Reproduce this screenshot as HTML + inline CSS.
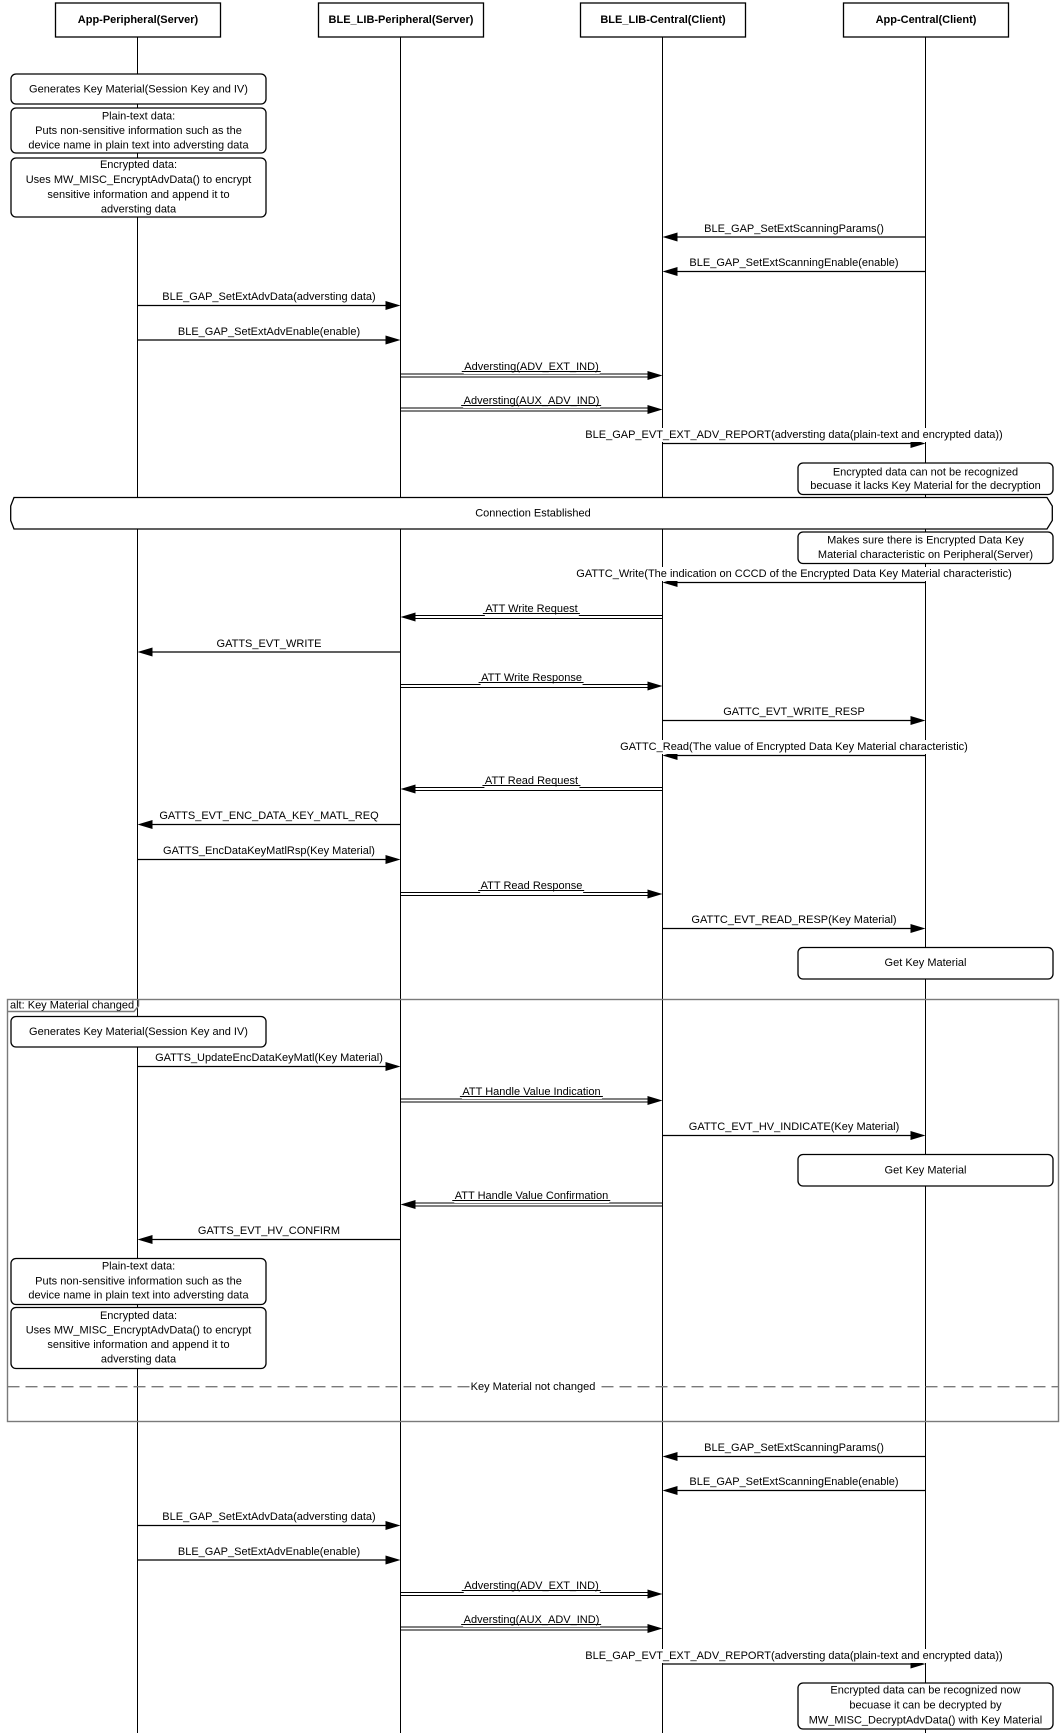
<!DOCTYPE html>
<html>
<head>
<meta charset="utf-8">
<style>
  html, body { margin:0; padding:0; background:#fff; }
  #wrap { position:relative; width:1063px; height:1733px; overflow:hidden; background:#fff; }
  svg { position:absolute; left:0; top:0; }
  .l { position:absolute; transform:translate(-50%,-50%); white-space:nowrap;
       font-family:"Liberation Sans", Arial, sans-serif; font-size:11px; line-height:14px;
       color:#000; background:#fff; padding:0 1px; }
  .u::after { content:""; position:absolute; left:-2px; right:-1px; bottom:1.7px; height:1px; background:#000; }
  .t { font-family:"Liberation Sans", Arial, sans-serif; font-size:11px; fill:#000; }
  .b { font-weight:bold; }
</style>
</head>
<body>
<div id="wrap">
<svg width="1063" height="1733" viewBox="0 0 1063 1733" xmlns="http://www.w3.org/2000/svg">
  <!-- lifelines -->
  <g stroke="#000" stroke-width="1">
    <line x1="137.5" y1="37" x2="137.5" y2="1733"/>
    <line x1="400.5" y1="37" x2="400.5" y2="1733"/>
    <line x1="662.5" y1="37" x2="662.5" y2="1733"/>
    <line x1="925.5" y1="37" x2="925.5" y2="1733"/>
  </g>
  <!-- header boxes -->
  <g fill="#fff" stroke="#000" stroke-width="1.3">
    <rect x="55.5" y="3" width="165" height="34"/>
    <rect x="318.5" y="3" width="165" height="34"/>
    <rect x="580.5" y="3" width="165" height="34"/>
    <rect x="843.5" y="3" width="165" height="34"/>
  </g>
  <g class="t b" text-anchor="middle" dominant-baseline="central">
    <text x="138" y="20">App-Peripheral(Server)</text>
    <text x="401" y="20">BLE_LIB-Peripheral(Server)</text>
    <text x="663" y="20">BLE_LIB-Central(Client)</text>
    <text x="926" y="20">App-Central(Client)</text>
  </g>

  <!-- alt frame -->
  <g fill="none" stroke="#7a7a7a" stroke-width="1.4">
    <rect x="7.5" y="999.5" width="1051" height="422"/>
    <path d="M7.5,1011.5 H134 L138.5,1006 V999.5"/>
    <line x1="7.5" y1="1386.7" x2="1058.5" y2="1386.7" stroke-dasharray="12 6"/>
  </g>
  <text class="t" x="10" y="1005.5" dominant-baseline="central">alt: Key Material changed</text>

  <!-- single arrows -->
  <g stroke="#000" stroke-width="1.2">
    <line x1="925.5" y1="237" x2="672" y2="237"/>
    <line x1="925.5" y1="271.5" x2="672" y2="271.5"/>
    <line x1="137.5" y1="305.5" x2="391" y2="305.5"/>
    <line x1="137.5" y1="340" x2="391" y2="340"/>
    <line x1="662.5" y1="443.5" x2="916" y2="443.5"/>
    <line x1="925.5" y1="582.5" x2="672" y2="582.5"/>
    <line x1="400.5" y1="652" x2="147" y2="652"/>
    <line x1="662.5" y1="720.5" x2="916" y2="720.5"/>
    <line x1="925.5" y1="755.5" x2="672" y2="755.5"/>
    <line x1="400.5" y1="824.5" x2="147" y2="824.5"/>
    <line x1="137.5" y1="859.5" x2="391" y2="859.5"/>
    <line x1="662.5" y1="928.5" x2="916" y2="928.5"/>
    <line x1="137.5" y1="1066.5" x2="391" y2="1066.5"/>
    <line x1="662.5" y1="1135.5" x2="916" y2="1135.5"/>
    <line x1="400.5" y1="1239.5" x2="147" y2="1239.5"/>
    <line x1="925.5" y1="1456.5" x2="672" y2="1456.5"/>
    <line x1="925.5" y1="1490.5" x2="672" y2="1490.5"/>
    <line x1="137.5" y1="1525.5" x2="391" y2="1525.5"/>
    <line x1="137.5" y1="1560" x2="391" y2="1560"/>
    <line x1="662.5" y1="1664" x2="916" y2="1664"/>
  </g>
  <!-- double arrows -->
  <g stroke="#000" stroke-width="1">
    <line x1="400.5" y1="374" x2="652" y2="374"/><line x1="400.5" y1="377" x2="652" y2="377"/>
    <line x1="400.5" y1="408" x2="652" y2="408"/><line x1="400.5" y1="411" x2="652" y2="411"/>
    <line x1="662.5" y1="615.5" x2="411" y2="615.5"/><line x1="662.5" y1="618.5" x2="411" y2="618.5"/>
    <line x1="400.5" y1="684.5" x2="652" y2="684.5"/><line x1="400.5" y1="687.5" x2="652" y2="687.5"/>
    <line x1="662.5" y1="787.5" x2="411" y2="787.5"/><line x1="662.5" y1="790.5" x2="411" y2="790.5"/>
    <line x1="400.5" y1="892.5" x2="652" y2="892.5"/><line x1="400.5" y1="895.5" x2="652" y2="895.5"/>
    <line x1="400.5" y1="1099" x2="652" y2="1099"/><line x1="400.5" y1="1102" x2="652" y2="1102"/>
    <line x1="662.5" y1="1203" x2="411" y2="1203"/><line x1="662.5" y1="1206" x2="411" y2="1206"/>
    <line x1="400.5" y1="1592.5" x2="652" y2="1592.5"/><line x1="400.5" y1="1595.5" x2="652" y2="1595.5"/>
    <line x1="400.5" y1="1627" x2="652" y2="1627"/><line x1="400.5" y1="1630" x2="652" y2="1630"/>
  </g>
  <!-- arrowheads -->
  <g fill="#000" stroke="none">
    <polygon points="662.5,237 677.5,232.5 677.5,241.5"/>
    <polygon points="662.5,271.5 677.5,267 677.5,276"/>
    <polygon points="400.5,305.5 385.5,301 385.5,310"/>
    <polygon points="400.5,340 385.5,335.5 385.5,344.5"/>
    <polygon points="662.5,375.5 647.5,371 647.5,380"/>
    <polygon points="662.5,409.5 647.5,405 647.5,414"/>
    <polygon points="925.5,443.5 910.5,439 910.5,448"/>
    <polygon points="662.5,582.5 677.5,578 677.5,587"/>
    <polygon points="400.5,617 415.5,612.5 415.5,621.5"/>
    <polygon points="137.5,652 152.5,647.5 152.5,656.5"/>
    <polygon points="662.5,686 647.5,681.5 647.5,690.5"/>
    <polygon points="925.5,720.5 910.5,716 910.5,725"/>
    <polygon points="662.5,755.5 677.5,751 677.5,760"/>
    <polygon points="400.5,789 415.5,784.5 415.5,793.5"/>
    <polygon points="137.5,824.5 152.5,820 152.5,829"/>
    <polygon points="400.5,859.5 385.5,855 385.5,864"/>
    <polygon points="662.5,894 647.5,889.5 647.5,898.5"/>
    <polygon points="925.5,928.5 910.5,924 910.5,933"/>
    <polygon points="400.5,1066.5 385.5,1062 385.5,1071"/>
    <polygon points="662.5,1100.5 647.5,1096 647.5,1105"/>
    <polygon points="925.5,1135.5 910.5,1131 910.5,1140"/>
    <polygon points="400.5,1204.5 415.5,1200 415.5,1209"/>
    <polygon points="137.5,1239.5 152.5,1235 152.5,1244"/>
    <polygon points="662.5,1456.5 677.5,1452 677.5,1461"/>
    <polygon points="662.5,1490.5 677.5,1486 677.5,1495"/>
    <polygon points="400.5,1525.5 385.5,1521 385.5,1530"/>
    <polygon points="400.5,1560 385.5,1555.5 385.5,1564.5"/>
    <polygon points="662.5,1594 647.5,1589.5 647.5,1598.5"/>
    <polygon points="662.5,1628.5 647.5,1624 647.5,1633"/>
    <polygon points="925.5,1664 910.5,1659.5 910.5,1668.5"/>
  </g>

  <!-- notes -->
  <g fill="#fff" stroke="#000" stroke-width="1.3">
    <rect x="11" y="74" width="255" height="30" rx="5"/>
    <rect x="11" y="108" width="255" height="45" rx="5"/>
    <rect x="11" y="158" width="255" height="59" rx="5"/>
    <rect x="798" y="463" width="255" height="31.5" rx="5"/>
    <rect x="798" y="532" width="255" height="31.5" rx="5"/>
    <rect x="798" y="947.5" width="255" height="31.5" rx="5"/>
    <rect x="11" y="1016.5" width="255" height="30.5" rx="5"/>
    <rect x="798" y="1154.5" width="255" height="31.5" rx="5"/>
    <rect x="11" y="1258.5" width="255" height="46" rx="5"/>
    <rect x="11" y="1307.5" width="255" height="61" rx="5"/>
    <rect x="798" y="1683" width="255" height="46" rx="5"/>
    <!-- connection established -->
    <path d="M14,497.5 H1047 L1052.3,506 V520.5 L1047,529 H14 L10.7,520.5 V506 Z"/>
  </g>
  <g class="t" text-anchor="middle" dominant-baseline="central">
    <text x="138.5" y="89.5">Generates Key Material(Session Key and IV)</text>
    <text x="138.5" y="116.7">Plain-text data:</text>
    <text x="138.5" y="130.9">Puts non-sensitive information such as the</text>
    <text x="138.5" y="145.3">device name in plain text into adversting data</text>
    <text x="138.5" y="165">Encrypted data:</text>
    <text x="138.5" y="180">Uses MW_MISC_EncryptAdvData() to encrypt</text>
    <text x="138.5" y="195">sensitive information and append it to</text>
    <text x="138.5" y="209.5">adversting data</text>

    <text x="925.5" y="472.5">Encrypted data can not be recognized</text>
    <text x="925.5" y="486">becuase it lacks Key Material for the decryption</text>

    <text x="533" y="513.3">Connection Established</text>

    <text x="925.5" y="540.5">Makes sure there is Encrypted Data Key</text>
    <text x="925.5" y="555">Material characteristic on Peripheral(Server)</text>

    <text x="925.5" y="963">Get Key Material</text>

    <text x="138.5" y="1032">Generates Key Material(Session Key and IV)</text>

    <text x="925.5" y="1170.5">Get Key Material</text>

    <text x="138.5" y="1266.7">Plain-text data:</text>
    <text x="138.5" y="1281.3">Puts non-sensitive information such as the</text>
    <text x="138.5" y="1295.7">device name in plain text into adversting data</text>
    <text x="138.5" y="1316">Encrypted data:</text>
    <text x="138.5" y="1330.7">Uses MW_MISC_EncryptAdvData() to encrypt</text>
    <text x="138.5" y="1345">sensitive information and append it to</text>
    <text x="138.5" y="1359.7">adversting data</text>

    <text x="925.5" y="1690.5">Encrypted data can be recognized now</text>
    <text x="925.5" y="1705.5">becuase it can be decrypted by</text>
    <text x="925.5" y="1720.5">MW_MISC_DecryptAdvData() with Key Material</text>
  </g>
</svg>

<!-- message labels -->
<div class="l" style="left:794px;top:228.5px">BLE_GAP_SetExtScanningParams()</div>
<div class="l" style="left:794px;top:263px">BLE_GAP_SetExtScanningEnable(enable)</div>
<div class="l" style="left:269px;top:297px">BLE_GAP_SetExtAdvData(adversting data)</div>
<div class="l" style="left:269px;top:331.5px">BLE_GAP_SetExtAdvEnable(enable)</div>
<div class="l u" style="left:531.5px;top:367px">Adversting(ADV_EXT_IND)</div>
<div class="l u" style="left:531.5px;top:401px">Adversting(AUX_ADV_IND)</div>
<div class="l" style="left:794px;top:435px">BLE_GAP_EVT_EXT_ADV_REPORT(adversting data(plain-text and encrypted data))</div>

<div class="l" style="left:794px;top:574px">GATTC_Write(The indication on CCCD of the Encrypted Data Key Material characteristic)</div>
<div class="l u" style="left:531.5px;top:608.5px">ATT Write Request</div>
<div class="l" style="left:269px;top:643.5px">GATTS_EVT_WRITE</div>
<div class="l u" style="left:531.5px;top:677.5px">ATT Write Response</div>
<div class="l" style="left:794px;top:712px">GATTC_EVT_WRITE_RESP</div>
<div class="l" style="left:794px;top:747px">GATTC_Read(The value of Encrypted Data Key Material characteristic)</div>
<div class="l u" style="left:531.5px;top:780.5px">ATT Read Request</div>
<div class="l" style="left:269px;top:816px">GATTS_EVT_ENC_DATA_KEY_MATL_REQ</div>
<div class="l" style="left:269px;top:851px">GATTS_EncDataKeyMatlRsp(Key Material)</div>
<div class="l u" style="left:531.5px;top:885.5px">ATT Read Response</div>
<div class="l" style="left:794px;top:920px">GATTC_EVT_READ_RESP(Key Material)</div>

<div class="l" style="left:269px;top:1058px">GATTS_UpdateEncDataKeyMatl(Key Material)</div>
<div class="l u" style="left:531.5px;top:1092px">ATT Handle Value Indication</div>
<div class="l" style="left:794px;top:1127px">GATTC_EVT_HV_INDICATE(Key Material)</div>
<div class="l u" style="left:531.5px;top:1196px">ATT Handle Value Confirmation</div>
<div class="l" style="left:269px;top:1231px">GATTS_EVT_HV_CONFIRM</div>

<div class="l" style="left:533px;top:1386.7px;padding:0">Key Material not changed</div>

<div class="l" style="left:794px;top:1448px">BLE_GAP_SetExtScanningParams()</div>
<div class="l" style="left:794px;top:1482px">BLE_GAP_SetExtScanningEnable(enable)</div>
<div class="l" style="left:269px;top:1517px">BLE_GAP_SetExtAdvData(adversting data)</div>
<div class="l" style="left:269px;top:1551.5px">BLE_GAP_SetExtAdvEnable(enable)</div>
<div class="l u" style="left:531.5px;top:1585.5px">Adversting(ADV_EXT_IND)</div>
<div class="l u" style="left:531.5px;top:1620px">Adversting(AUX_ADV_IND)</div>
<div class="l" style="left:794px;top:1655.5px">BLE_GAP_EVT_EXT_ADV_REPORT(adversting data(plain-text and encrypted data))</div>
</div>
</body>
</html>
